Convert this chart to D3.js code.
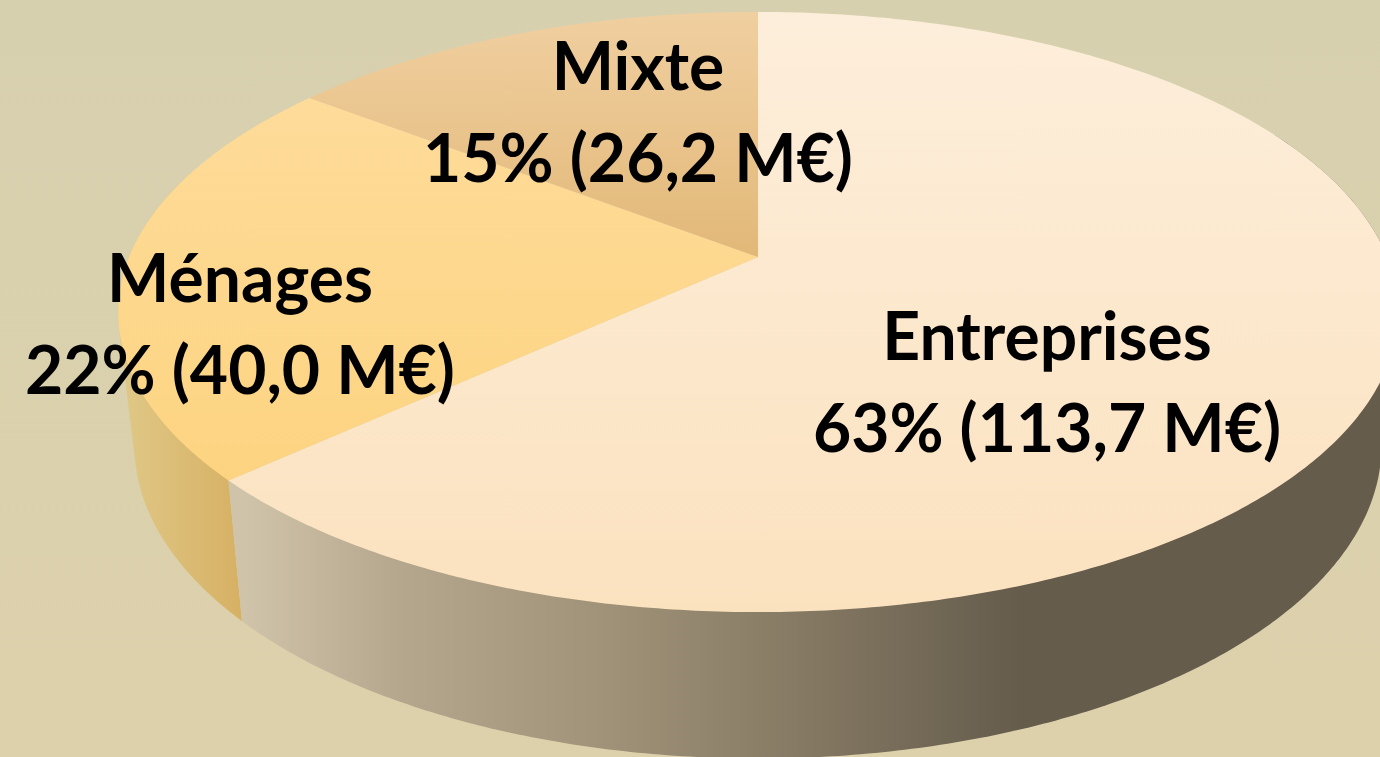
<!DOCTYPE html>
<html>
<head>
<meta charset="utf-8">
<script src="https://d3js.org/d3.v7.min.js"></script>
<style>
    html, body { margin: 0; padding: 0; background: #d9d0ad; }
    svg { display: block; }
    .label {
        font-family: Lato, "Open Sans", sans-serif;
        font-weight: 700;
        font-size: 66px;
        fill: #000;
        text-anchor: middle;
    }
</style>
</head>
<body>
<svg width="1380" height="757"></svg>
<script>

    var categories = ["Entreprises", "Ménages", "Mixte"];
    var amounts = [113.7, 40.0, 26.2];

    var topColors = [["#fdeedb", "#fbe2bf"], ["#fedd9f", "#fcd178"], ["#f0cfa0", "#e2b878"]];
    var wallStops = [
        [[245, "#cfc3a9"], [400, "#b5a78d"], [600, "#a09379"], [750, "#8d8069"], [1020, "#655c4c"]],
        [[130, "#dfc684"], [245, "#d6b063"]]
    ];

    // label anchors, one per slice: x centre and first baseline
    var labelX = [1047, 240, 638];
    var labelY = [360, 302, 90];
    var lineGap = 92;

    var svg = d3.select("svg"),
        width = +svg.attr("width"),
        height = +svg.attr("height");

    // the pie is a tilted disc, so the rim goes through a perspective projection
    var apexX = 758,
        k = -0.1833,
        topDisc = {y: 257, a: 629, b: 290},
        lowDisc = {y: 388, a: 613, b: 302.6};

    function project(disc, angle) {
        var u = Math.sin(angle), v = Math.cos(angle) * -1;
        var w = 1 + k * v;
        return [apexX + disc.a * u / w, disc.y + disc.b * v / w];
    }

    function rim(disc, a0, a1) {
        var n = Math.max(2, Math.ceil((a1 - a0) / 0.01));
        return d3.range(n + 1).map(function (i) {
            return project(disc, a0 + (a1 - a0) * i / n);
        });
    }

    var total = d3.sum(amounts);
    var pie = d3.pie().sort(null).value(function (d) { return d; });
    var slices = pie(amounts);

    var frFormat = d3.formatLocale({decimal: ",", thousands: " ", grouping: [3], currency: ["", "€"]}).format(".1f");

    var defs = svg.append("defs");

    var bg = defs.append("linearGradient").attr("id", "bg")
        .attr("x1", 0).attr("y1", 0).attr("x2", 0).attr("y2", 1);
    bg.append("stop").attr("offset", 0).attr("stop-color", "#d7d0af");
    bg.append("stop").attr("offset", 1).attr("stop-color", "#ddd1ab");

    topColors.forEach(function (c, i) {
        var g = defs.append("linearGradient").attr("id", "top" + i)
            .attr("gradientUnits", "userSpaceOnUse")
            .attr("x1", 0).attr("y1", 12).attr("x2", 0).attr("y2", i == 2 ? 257 : 612);
        g.append("stop").attr("offset", 0).attr("stop-color", c[0]);
        g.append("stop").attr("offset", 1).attr("stop-color", c[1]);
    });

    wallStops.forEach(function (stops, i) {
        var x0 = stops[0][0], x1 = stops[stops.length - 1][0];
        var g = defs.append("linearGradient").attr("id", "wall" + i)
            .attr("gradientUnits", "userSpaceOnUse")
            .attr("x1", x0).attr("y1", 0).attr("x2", x1).attr("y2", 0);
        stops.forEach(function (s) {
            g.append("stop").attr("offset", (s[0] - x0) / (x1 - x0)).attr("stop-color", s[1]);
        });
    });

    svg.append("rect").attr("width", width).attr("height", height).attr("fill", "url(#bg)");

    var line = d3.line();

    // walls: only the front part of the rim can be seen, the top faces cover the rest
    var frontFrom = Math.PI * 0.35, frontTo = Math.PI * 1.6;
    slices.slice(0, 2).reverse().forEach(function (s) {
        var a0 = Math.max(s.startAngle, frontFrom), a1 = Math.min(s.endAngle, frontTo);
        var hull = d3.polygonHull(rim(topDisc, a0, a1).concat(rim(lowDisc, a0, a1)));
        svg.append("path")
            .attr("d", line(hull) + "Z")
            .attr("fill", "url(#wall" + s.index + ")");
    });

    // top faces
    svg.selectAll(".slice")
        .data(slices)
        .enter().append("path")
        .attr("class", "slice")
        .attr("d", function (d) {
            return line([[apexX, topDisc.y]].concat(rim(topDisc, d.startAngle, d.endAngle))) + "Z";
        })
        .attr("fill", function (d) { return "url(#top" + d.index + ")"; });

    var labels = svg.selectAll(".label-group")
        .data(slices)
        .enter().append("g")
        .attr("class", "label-group");

    labels.append("text")
        .attr("class", "label")
        .attr("x", function (d) { return labelX[d.index]; })
        .attr("y", function (d) { return labelY[d.index]; })
        .text(function (d) { return categories[d.index]; });

    labels.append("text")
        .attr("class", "label")
        .attr("x", function (d) { return labelX[d.index]; })
        .attr("y", function (d) { return labelY[d.index] + lineGap; })
        .text(function (d) {
            return Math.round(d.value / total * 100) + "% (" + frFormat(d.value) + " M€)";
        });
</script>
</body>
</html>
